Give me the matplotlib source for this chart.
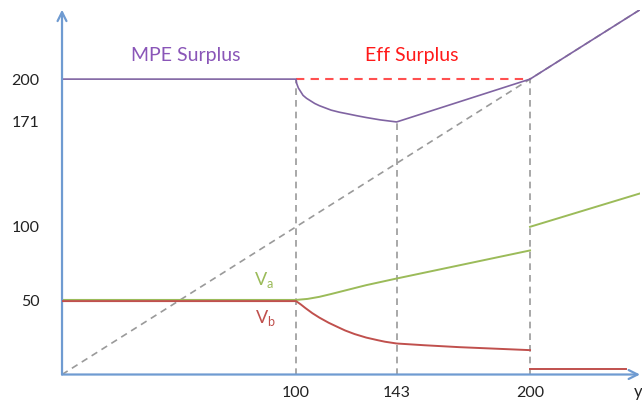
import matplotlib.pyplot as plt

mpe_x = [0, 100, 100.3, 101, 102, 103, 104.5, 106, 108, 110, 112.5, 115,
         118.5, 122, 126, 130, 136, 143, 200, 247]
mpe_y = [200, 200, 197, 194, 191.5, 189, 187, 185.5, 183.5, 182, 180.5, 179,
         177.6, 176.5, 175.2, 174, 172.4, 171, 200, 247]

va_x = [0, 100, 105, 110, 115, 120, 130, 143, 170, 200]
va_y = [50.5, 50.5, 51.2, 52.6, 54.5, 56.5, 60.5, 65, 74, 84]
va_hi_x = [200, 247]
va_hi_y = [100, 122.6]

vb_x = [0, 100, 102, 104, 107, 110, 114, 118, 121, 125, 130, 135, 138, 143,
        155, 170, 185, 200]
vb_y = [49.7, 49.7, 47.5, 45, 41.5, 38.5, 35, 32, 29.8, 27.4, 25, 23.2, 22.2,
        21, 19.8, 18.5, 17.5, 16.5]
vb_lo_x = [200, 241]
vb_lo_y = [4, 4]

eff_x = [100, 200]
eff_y = [200, 200]

diag = [0, 247]
x_ticks = [100, 143, 200]
y_ticks = [50, 100, 171, 200]
vline_tops = [200, 171, 200]

AXIS = "#6f9bd1"
GREY = "#9a9a9a"
PURPLE = "#8064a2"
GREEN = "#9bbb59"
RED = "#c0504d"

plt.rcParams["font.family"] = ["Lato", "DejaVu Sans"]
plt.rcParams["mathtext.fontset"] = "custom"
plt.rcParams["mathtext.rm"] = "Lato"

fig = plt.figure(figsize=(6.42, 4.04), dpi=100)
ax = fig.add_axes([0.0966, 0.073, 0.9003, 0.903])
ax.set_xlim(0, 247)
ax.set_ylim(0, 247)
for s in ax.spines.values():
    s.set_visible(False)

dash = (0, (4, 3))
ax.plot(diag, diag, color=GREY, lw=1.2, linestyle=dash, zorder=1)
for xv, top in zip(x_ticks, vline_tops):
    ax.plot([xv, xv], [0, top], color=GREY, lw=1.2, linestyle=dash, zorder=1)

ax.plot(eff_x, eff_y, color="#ff5050", lw=1.5, linestyle=(0, (4, 3)), zorder=2)
ax.plot(mpe_x, mpe_y, color=PURPLE, lw=1.2, zorder=3)
ax.plot(va_x, va_y, color=GREEN, lw=1.4, zorder=3)
ax.plot(va_hi_x, va_hi_y, color=GREEN, lw=1.4, zorder=3)
ax.plot(vb_x, vb_y, color=RED, lw=1.4, zorder=4)
ax.plot(vb_lo_x, vb_lo_y, color=RED, lw=1.4, zorder=4)

# axes with open arrow heads
arrow = dict(arrowstyle="->", color=AXIS, lw=1.6, mutation_scale=16,
             shrinkA=0, shrinkB=0)
ax.annotate("", xy=(0, 247), xytext=(0, 0), arrowprops=arrow, annotation_clip=False)
ax.annotate("", xy=(247, 0), xytext=(0, 0), arrowprops=arrow, annotation_clip=False)

ax.set_xticks(x_ticks)
ax.set_yticks(y_ticks)
ax.tick_params(axis="x", length=0, pad=8, labelsize=11.5, labelcolor="#222222")
ax.tick_params(axis="y", length=0, pad=16, labelsize=11.5, labelcolor="#222222")

ax.text(53, 216, "MPE Surplus", color="#8a56b8", fontsize=14, ha="center", va="center")
ax.text(149.6, 216, "Eff Surplus", color="#ff1a1a", fontsize=14, ha="center", va="center")
ax.text(86.3, 64, r"V$_\mathrm{a}$", color=GREEN, fontsize=13, ha="center", va="center")
ax.text(86.8, 38, r"V$_\mathrm{b}$", color=RED, fontsize=13, ha="center", va="center")
ax.text(244.3, -12, "y", color="#222222", fontsize=12, ha="left", va="center", clip_on=False)

fig.savefig("out.png", dpi=100)
